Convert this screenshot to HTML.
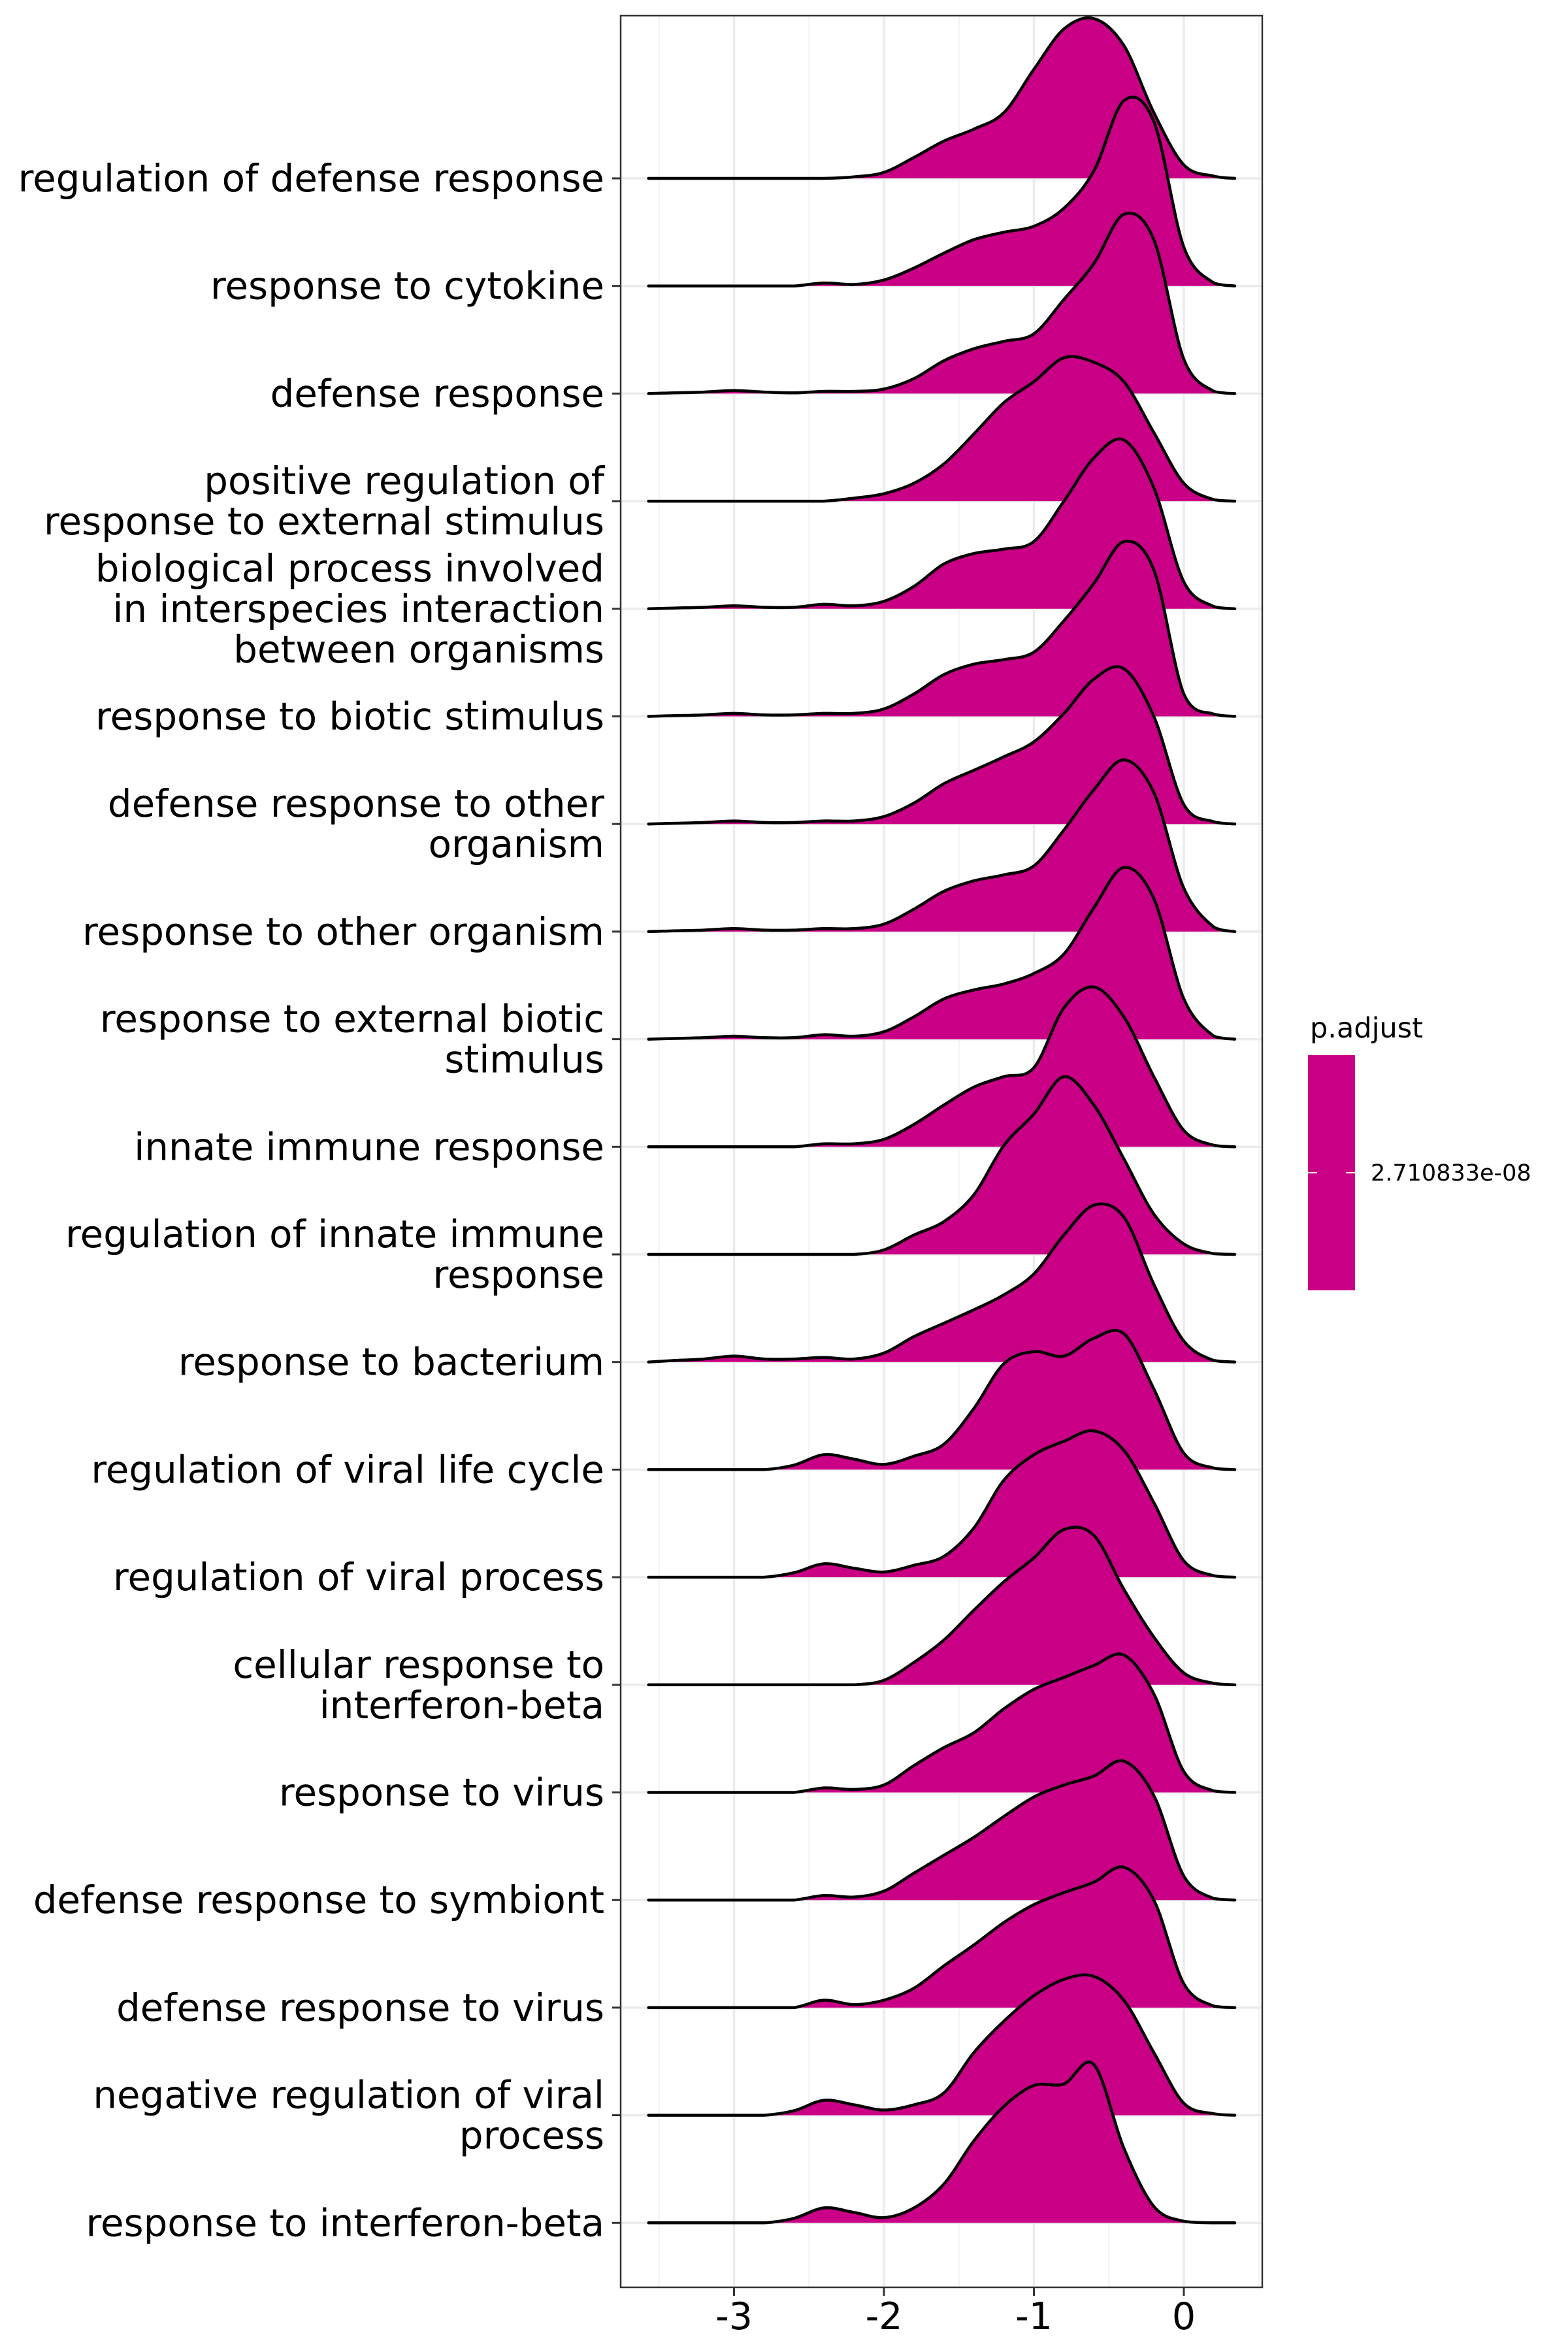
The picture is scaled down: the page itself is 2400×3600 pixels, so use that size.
<!DOCTYPE html>
<html><head><meta charset="utf-8"><title>Ridgeline plot</title>
<style>html,body{margin:0;padding:0;background:#fff;}svg{display:block;}text{font-family:"DejaVu Sans","Liberation Sans",sans-serif;}</style>
</head><body>
<svg id="chart" xmlns="http://www.w3.org/2000/svg" width="2400" height="3600" viewBox="0 0 2400 3600">
<rect x="0" y="0" width="2400" height="3600" fill="#ffffff"/>
<g id="grid"></g>
<g id="ridges"></g>
<rect x="950" y="24" width="982" height="3477" fill="none" stroke="#333333" stroke-width="2.5"/>
<g id="yaxis"></g>
<g id="xaxis"></g>
<g>
  <text x="2005" y="1588" font-size="43" fill="#000">p.adjust</text>
  <rect x="2002" y="1615" width="72" height="360" fill="#C90086"/>
  <line x1="2002" y1="1795" x2="2016" y2="1795" stroke="#ffffff" stroke-width="2"/>
  <line x1="2060" y1="1795" x2="2074" y2="1795" stroke="#ffffff" stroke-width="2"/>
  <text x="2098" y="1807" font-size="35" fill="#000">2.710833e-08</text>
</g>
</svg>
<script>
const categories = [
 ["regulation of defense response"],
 ["response to cytokine"],
 ["defense response"],
 ["positive regulation of","response to external stimulus"],
 ["biological process involved","in interspecies interaction","between organisms"],
 ["response to biotic stimulus"],
 ["defense response to other","organism"],
 ["response to other organism"],
 ["response to external biotic","stimulus"],
 ["innate immune response"],
 ["regulation of innate immune","response"],
 ["response to bacterium"],
 ["regulation of viral life cycle"],
 ["regulation of viral process"],
 ["cellular response to","interferon-beta"],
 ["response to virus"],
 ["defense response to symbiont"],
 ["defense response to virus"],
 ["negative regulation of viral","process"],
 ["response to interferon-beta"]
];
const xGrid = [-3.57,-3.4,-3.2,-3.0,-2.8,-2.6,-2.4,-2.2,-2.0,-1.8,-1.6,-1.4,-1.2,-1.0,-0.8,-0.6,-0.4,-0.2,0,0.2,0.34];
const density01 = [0,0,0,0,0,0,0,1,4,14,25,33,44,73,100,107,89,44,9,1.5,0];
const density02 = [0,0,0,0,0,0,2,1,4,12,22,31,36,40,52,77,124,110,26,2,0];
const density03 = [0,0.5,1,2,1,0.5,1.5,1.5,3,10,22,30,35,40,63,87,120,103,23,1.5,0];
const density04 = [0,0,0,0,0,0,0,2,5,12,25,45,66,80,96,93,80,46,12,1,0];
const density05 = [0,0.5,1,2,1,1,3,2,5,15,30,37,40,45,72,101,113,81,18,1.5,0];
const density06 = [0,0.5,1,2,1,1,2,2,5,15,28,35,38,43,64,89,117,98,15,1.5,0];
const density07 = [0,0.5,1,2,1,1,2,2,5,14,27,36,45,55,74,97,104,72,13,1.5,0];
const density08 = [0,0.5,1,2,1,1,2,2,5,15,27,34,38,44,68,95,115,93,29,3,0];
const density09 = [0,0.5,1,2,1,1,3,2,5,15,27,33,37,44,57,88,115,94,27,2,0];
const density10 = [0,0,0,0,0,0,2,2,5,15,28,40,47,53,93,107,87,47,11,1,0];
const density11 = [0,0,0,0,0,0,0,0,3,13,22,40,73,94,119,100,64,27,7,0.5,0];
const density12 = [0,1,2,4,2,2,3,2,6,17,26,35,45,59,85,105,97,52,14,1,0];
const density13 = [0,0,0,0,0,3,10,7,3.5,9,17,41,71,79,76,88,91,54,11,1,0];
const density14 = [0,0,0,0,0,3,9,6,3.5,8,14,33,65,82,91,98,85,50,11,1,0];
const density15 = [0,0,0,0,0,0,0,0,3,15,30,50,69,85,104,100,64,32,8,1,0];
const density16 = [0,0,0,0,0,0,3,2,5,18,30,40,56,69,77,85,92,66,14,1,0];
const density17 = [0,0,0,0,0,0,3,2,6,18,30,42,56,69,77,83,93,70,16,1,0];
const density18 = [0,0,0,0,0,0,5,2,5,13,28,42,57,69,77,84,94,72,16,1,0];
const density19 = [0,0,0,0,0,3,10,7,3.5,7,15,42,63,80,91,93,77,42,8,1,0];
const density20 = [0,0,0,0,0,3,10,7,3.5,10,26,55,78,92,93,106,50,11,1,0,0];
const densities = [density01,density02,density03,density04,density05,density06,density07,density08,density09,density10,density11,density12,density13,density14,density15,density16,density17,density18,density19,density20];
const xMajorTicks = [-3,-2,-1,0];
const xMajorLabels = ["-3","-2","-1","0"];
const xMinorTicks = [-3.5,-2.5,-1.5,-0.5,0.5];

const NS = "http://www.w3.org/2000/svg";
function xScale(v){ return 1812 + 229.5*v; }
function yBase(i){ return 273 + 164.7*i; }
function hScale(h){ return h*2.2857; }
function mk(tag, attrs, parent){ const e=document.createElementNS(NS,tag); for(const k in attrs) e.setAttribute(k,attrs[k]); parent.appendChild(e); return e; }

const grid = document.getElementById('grid');
xMinorTicks.forEach(v=>{
  const l = mk('line',{x1:xScale(v),x2:xScale(v),y1:24,y2:3501,stroke:'#f2f2f2','stroke-width':2},grid);
  
  
});
xMajorTicks.forEach(v=>{
  const l = mk('line',{x1:xScale(v),x2:xScale(v),y1:24,y2:3501,stroke:'#ebebeb','stroke-width':3.5},grid);
  
  
});
categories.forEach((c,i)=>{
  const l = mk('line',{x1:950,x2:1932,y1:yBase(i),y2:yBase(i),stroke:'#ebebeb','stroke-width':3.5},grid);
  
  
});

// Catmull-Rom with control points clamped so the curve never dips below the baseline
function curvePath(pts, base){
  let d = '';
  for(let i=0;i<pts.length-1;i++){
    const p0=pts[Math.max(0,i-1)], p1=pts[i], p2=pts[i+1], p3=pts[Math.min(pts.length-1,i+2)];
    const c1x=p1[0]+(p2[0]-p0[0])/6, c1y=Math.min(base, p1[1]+(p2[1]-p0[1])/6);
    const c2x=p2[0]-(p3[0]-p1[0])/6, c2y=Math.min(base, p2[1]-(p3[1]-p1[1])/6);
    d += ` C${c1x.toFixed(1)},${c1y.toFixed(1)} ${c2x.toFixed(1)},${c2y.toFixed(1)} ${p2[0].toFixed(1)},${p2[1].toFixed(1)}`;
  }
  return d;
}
const ridges = document.getElementById('ridges');
densities.forEach((dens,i)=>{
  const b = yBase(i);
  const pts = xGrid.map((x,k)=>[xScale(x), b - hScale(Math.max(0,dens[k]))]);
  const cur = curvePath(pts, b);
  const g = mk('g',{},ridges);
  
  
  const fill = mk('path',{d:`M${pts[0][0]},${b} L${pts[0][0]},${pts[0][1]}`+cur+` L${pts[pts.length-1][0]},${b} Z`,fill:'#C90086',stroke:'none'},g);
  
  
  const line = mk('path',{d:`M${pts[0][0]},${pts[0][1]}`+cur,fill:'none',stroke:'#000','stroke-width':4.5,'stroke-linecap':'round','stroke-linejoin':'round'},g);
  
  
});

const yaxis = document.getElementById('yaxis');
categories.forEach((lines,i)=>{
  const t = yBase(i);
  const tk = mk('line',{x1:937,x2:950,y1:t,y2:t,stroke:'#333333','stroke-width':3},yaxis);
  
  
  const n = lines.length;
  const txt = mk('text',{x:925,'font-size':57.8,'text-anchor':'end',fill:'#000'},yaxis);
  
  
  lines.forEach((s,k)=>{
    const ts = mk('tspan',{x:925,y:(t+20-(n-1)*31+k*62).toFixed(1)},txt);
    ts.textContent = s;
  });
});

const xaxis = document.getElementById('xaxis');
xMajorTicks.forEach((v,k)=>{
  const tk = mk('line',{x1:xScale(v),x2:xScale(v),y1:3501,y2:3514,stroke:'#333333','stroke-width':3},xaxis);
  
  
  const t = mk('text',{x:xScale(v),y:3565,'font-size':57,'text-anchor':'middle',fill:'#000'},xaxis);
  
  
  t.textContent = xMajorLabels[k];
});
</script>
</body></html>
